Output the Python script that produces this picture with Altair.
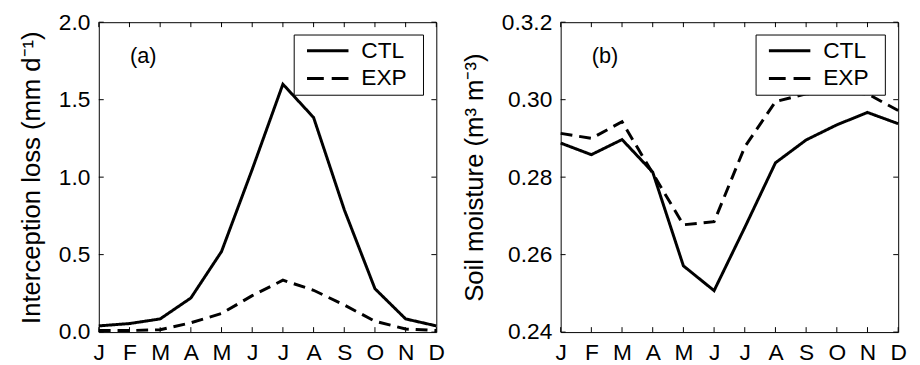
import altair as alt
import pandas as pd

months = ["J", "F", "M", "A", "M", "J", "J", "A", "S", "O", "N", "D"]
series = ["CTL", "EXP"]

interception_ctl = [0.04, 0.055, 0.085, 0.22, 0.52, 1.05, 1.60, 1.385, 0.79, 0.28, 0.085, 0.04]
interception_exp = [0.01, 0.01, 0.015, 0.06, 0.12, 0.235, 0.335, 0.27, 0.175, 0.07, 0.02, 0.01]
soil_ctl = [0.2888, 0.2858, 0.2897, 0.2813, 0.2571, 0.2507, 0.2670, 0.2837, 0.2896, 0.2935, 0.2967, 0.2938]
soil_exp = [0.2913, 0.2900, 0.2943, 0.2810, 0.2677, 0.2685, 0.2878, 0.2995, 0.3015, 0.3020, 0.3015, 0.2972]

interception_ticks = [0.0, 0.5, 1.0, 1.5, 2.0]
interception_tick_labels = ["0.0", "0.5", "1.0", "1.5", "2.0"]
soil_ticks = [0.24, 0.26, 0.28, 0.30, 0.32]
soil_tick_labels = ["0.24", "0.26", "0.28", "0.30", "0.3.2"]

W, H = 342, 314
FONT = "Liberation Sans"
FS = 23
TFS = 26


def panel(ctl, exp, ticks, tick_labels, title, tag):
    n = len(months)
    df = pd.DataFrame({
        "m": list(range(1, n + 1)) * 2,
        "v": ctl + exp,
        "s": [series[0]] * n + [series[1]] * n,
    })
    step = ticks[1] - ticks[0]
    ylab = "[" + ",".join(f"'{t}'" for t in tick_labels) + f"][round((datum.value-({ticks[0]}))/{step})]"
    xlab = "[" + ",".join(f"'{m}'" for m in months) + "][round(datum.value)-1]"
    xs = alt.Scale(type="point", domain=list(range(1, n + 1)), padding=0)
    ys = alt.Scale(domain=[ticks[0], ticks[-1]], nice=False, zero=False)
    x_enc = alt.X("m:O", scale=xs, axis=alt.Axis(labelExpr=xlab, labelAngle=0,
                                                 title=None, labelPadding=10, labelOverlap=False,
                                                 labelFlush=False, labelBound=False))
    y_enc = alt.Y("v:Q", scale=ys, axis=alt.Axis(values=ticks, labelExpr=ylab, title=title,
                                                 labelPadding=9, titlePadding=14, labelOverlap=False,
                                                 labelFlush=False, labelBound=False))

    lines = alt.Chart(df).mark_line(color="black", strokeWidth=3, clip=False).encode(
        x=x_enc, y=y_enc,
        strokeDash=alt.StrokeDash("s:N", scale=alt.Scale(domain=series, range=[[1, 0], [12, 7]]),
                                  legend=None),
        detail="s:N",
    )

    xt = pd.DataFrame({"m": list(range(1, n + 1))})
    yt = pd.DataFrame({"v": ticks})
    tick_b = alt.Chart(xt).mark_rule(color="black", strokeWidth=1).encode(
        x=x_enc, y=alt.value(H), y2=alt.value(H - 5))
    tick_t = alt.Chart(xt).mark_rule(color="black", strokeWidth=1).encode(
        x=x_enc, y=alt.value(0), y2=alt.value(5))
    tick_l = alt.Chart(yt).mark_rule(color="black", strokeWidth=1).encode(
        y=y_enc, x=alt.value(0), x2=alt.value(5))
    tick_r = alt.Chart(yt).mark_rule(color="black", strokeWidth=1).encode(
        y=y_enc, x=alt.value(W), x2=alt.value(W - 5))

    tag_text = alt.Chart(pd.DataFrame({"t": [tag]})).mark_text(
        font=FONT, fontSize=22, color="black").encode(
        x=alt.value(45), y=alt.value(34), text="t:N")

    box = alt.Chart(pd.DataFrame({"k": [0]})).mark_rect(
        fill="white", stroke="black", strokeWidth=1).encode(
        x=alt.value(198), x2=alt.value(329), y=alt.value(13), y2=alt.value(74))
    leg = []
    dashes = [[1, 0], [17, 8]]
    for i, s in enumerate(series):
        yy = 29 + 28 * i
        leg.append(alt.Chart(pd.DataFrame({"s": [s]})).mark_rule(
            color="black", strokeWidth=3, strokeDash=dashes[i]).encode(
            x=alt.value(211), x2=alt.value(253), y=alt.value(yy)))
        leg.append(alt.Chart(pd.DataFrame({"s": [s]})).mark_text(
            font=FONT, fontSize=23, color="black", align="left", baseline="middle").encode(
            x=alt.value(266), y=alt.value(yy), text="s:N"))

    return alt.layer(lines, tick_b, tick_t, tick_l, tick_r, tag_text, box, *leg).properties(
        width=W, height=H)


left = panel(interception_ctl, interception_exp, interception_ticks, interception_tick_labels,
             "Interception loss (mm d\u207b\u00b9)", "(a)")
right = panel(soil_ctl, soil_exp, soil_ticks, soil_tick_labels,
              "Soil moisture (m\u00b3 m\u207b\u00b3)", "(b)")

chart = alt.hconcat(left, right, spacing=126, bounds="flush").properties(
    padding={"left": 10, "top": 0, "right": 5, "bottom": 0}
).configure_view(stroke="black", strokeWidth=1).configure_axis(
    domain=False, ticks=False, tickSize=0, grid=False,
    labelFont=FONT, labelFontSize=FS, labelColor="black",
    titleFont=FONT, titleFontSize=TFS, titleFontWeight="normal", titleColor="black",
)

chart.save("out.html", embed_options={"renderer": "svg", "actions": False})
